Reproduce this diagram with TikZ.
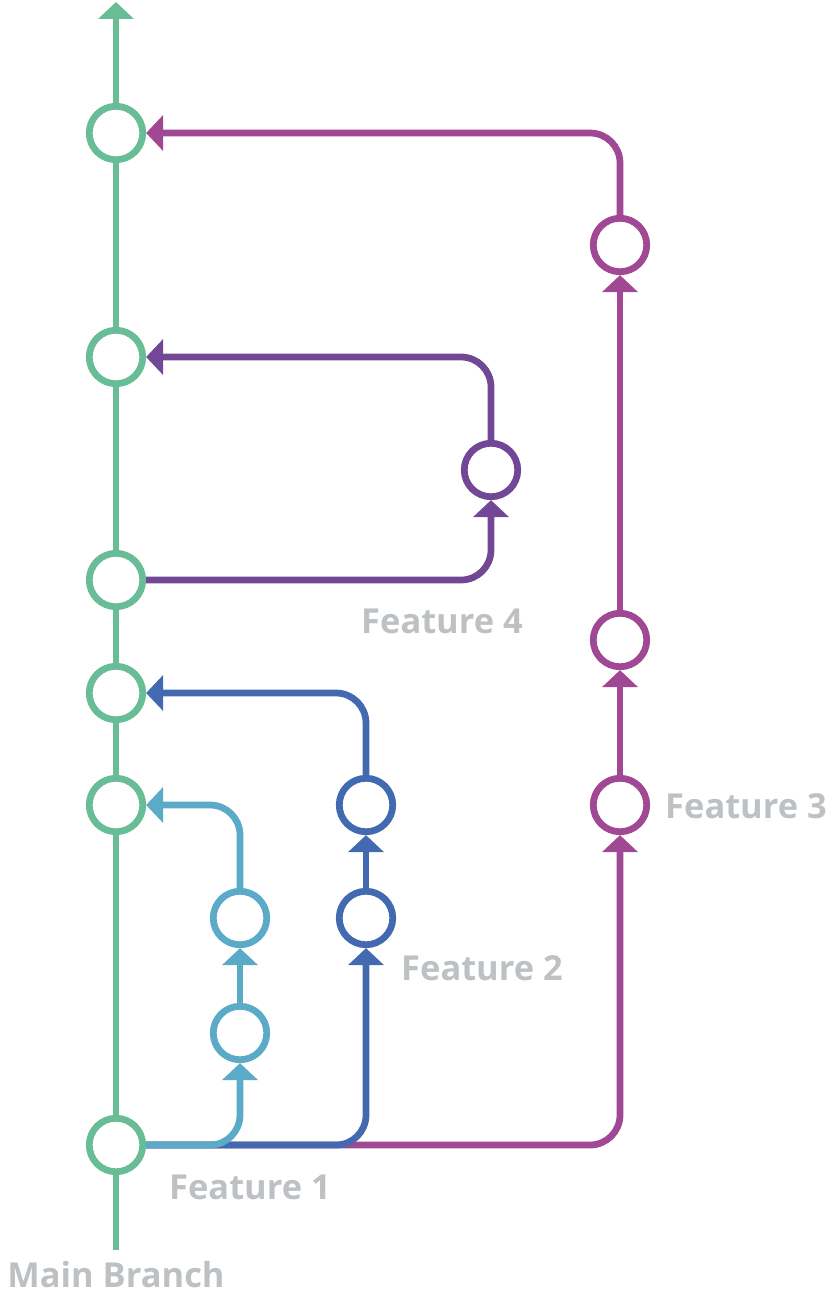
\documentclass[tikz,border=0pt]{standalone}
\usepackage{fontspec}
\setmainfont{Open Sans}
\usetikzlibrary{arrows.meta}
\definecolor{mainc}{HTML}{69BD96}
\definecolor{featA}{HTML}{5BAAC8}
\definecolor{featB}{HTML}{436AB0}
\definecolor{featC}{HTML}{A04894}
\definecolor{featD}{HTML}{724896}
\definecolor{labelc}{HTML}{BDC1C3}
\begin{document}
\begin{tikzpicture}
	[	x=0.02cm,y=-0.02cm,
	commit/.style={circle,draw=#1,fill=white,line width=0.135cm,inner sep=0pt,minimum size=1.07cm},
	trunk/.style={draw=#1,line width=0.135cm},
	branch/.style={draw=#1,line width=0.135cm,rounded corners=0.6cm,-{Triangle[width=0.7cm,length=0.34cm]}},
	plain/.style={text=labelc,inner sep=0pt,font=\bfseries\fontsize{19.6}{19.6}\selectfont}
	]
	\useasboundingbox (0,0) rectangle (832,1295);

	% main branch
	\node[commit=mainc] (m1) at (116,1145){};
	\node[commit=mainc] (m2) at (116,805){};
	\node[commit=mainc] (m3) at (116,693){};
	\node[commit=mainc] (m4) at (116,580){};
	\node[commit=mainc] (m5) at (116,357){};
	\node[commit=mainc] (m6) at (116,133){};
	\coordinate (mstart) at (116,1250);
	\coordinate (mtip) at (116,2);

	% feature commits
	\node[commit=featA] (fa1) at (240,1033){};
	\node[commit=featA] (fa2) at (240,918){};
	\node[commit=featB] (fb1) at (366,918){};
	\node[commit=featB] (fb2) at (366,805){};
	\node[commit=featC] (fc1) at (620,805){};
	\node[commit=featC] (fc2) at (620,640){};
	\node[commit=featC] (fc3) at (620,245){};
	\node[commit=featD] (fd1) at (491,470){};

\draw[trunk=mainc] (mstart) -- (m1);
\draw[trunk=mainc] (m1) -- (m2);
\draw[trunk=mainc] (m2) -- (m3);
\draw[trunk=mainc] (m3) -- (m4);
\draw[trunk=mainc] (m4) -- (m5);
\draw[trunk=mainc] (m5) -- (m6);
\draw[branch=mainc] (m6) -- (mtip);

\draw[branch=featC] (m1) -| (fc1);
\draw[branch=featC] (fc1) -- (fc2);
\draw[branch=featC] (fc2) -- (fc3);
\draw[branch=featC] (fc3) |- (m6);

\draw[branch=featB] (m1) -| (fb1);
\draw[branch=featB] (fb1) -- (fb2);
\draw[branch=featB] (fb2) |- (m3);

\draw[branch=featA] (m1) -| (fa1);
\draw[branch=featA] (fa1) -- (fa2);
\draw[branch=featA] (fa2) |- (m2);

\draw[branch=featD] (m4) -| (fd1);
\draw[branch=featD] (fd1) |- (m5);

	\node[plain] (l1) at (250,1187){Feature 1};
	\node[plain] (l2) at (482,968){Feature 2};
	\node[plain] (l3) at (746,806){Feature 3};
	\node[plain] (l4) at (442,621){Feature 4};
	\node[plain] (lm) at (116,1275){Main Branch};
\end{tikzpicture}
\end{document}
